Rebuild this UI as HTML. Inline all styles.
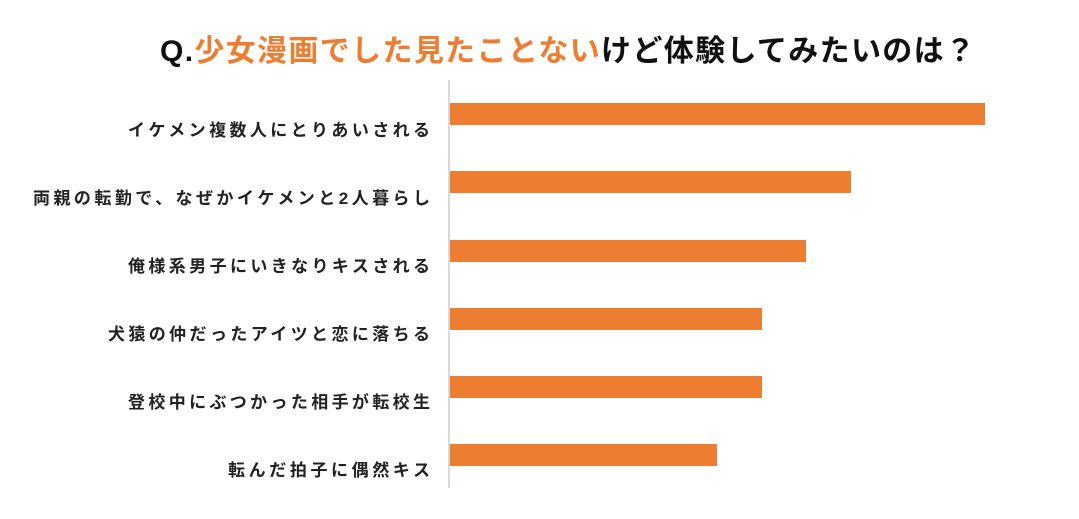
<!DOCTYPE html>
<html><head><meta charset="utf-8"><style>
html,body{margin:0;padding:0;background:#fff;}
svg{display:block;}
</style></head><body>
<svg width="1079" height="519" xmlns="http://www.w3.org/2000/svg">
<rect width="1079" height="519" fill="#fff"/>
<text x="160" y="61" font-family="'Liberation Sans','Noto Sans CJK JP',sans-serif" font-weight="bold" font-size="30" textLength="815" lengthAdjust="spacing" fill="#111"><tspan>Q.</tspan><tspan fill="#ed7d31">少女漫画でした見たことない</tspan><tspan>けど体験してみたいのは？</tspan></text>
<line x1="449" y1="80" x2="449" y2="488" stroke="#d9d9d9" stroke-width="2"/>
<g fill="#ed7d31">
<rect x="450" y="103" width="535" height="22"/>
<rect x="450" y="171" width="401" height="22"/>
<rect x="450" y="240" width="356" height="22"/>
<rect x="450" y="308" width="312" height="22"/>
<rect x="450" y="376" width="312" height="22"/>
<rect x="450" y="444" width="267" height="22"/>
</g>
<g font-family="'Liberation Sans','Noto Sans CJK JP',sans-serif" font-weight="bold" font-size="17" fill="#222" lengthAdjust="spacing">
<text x="128" y="136" textLength="302" lengthAdjust="spacing">イケメン複数人にとりあいされる</text>
<text x="33" y="204" textLength="397" lengthAdjust="spacing">両親の転勤で、なぜかイケメンと2人暮らし</text>
<text x="128" y="272" textLength="302" lengthAdjust="spacing">俺様系男子にいきなりキスされる</text>
<text x="108" y="340" textLength="322" lengthAdjust="spacing">犬猿の仲だったアイツと恋に落ちる</text>
<text x="128" y="408" textLength="302" lengthAdjust="spacing">登校中にぶつかった相手が転校生</text>
<text x="228" y="476" textLength="202" lengthAdjust="spacing">転んだ拍子に偶然キス</text>
</g>
</svg>
</body></html>
